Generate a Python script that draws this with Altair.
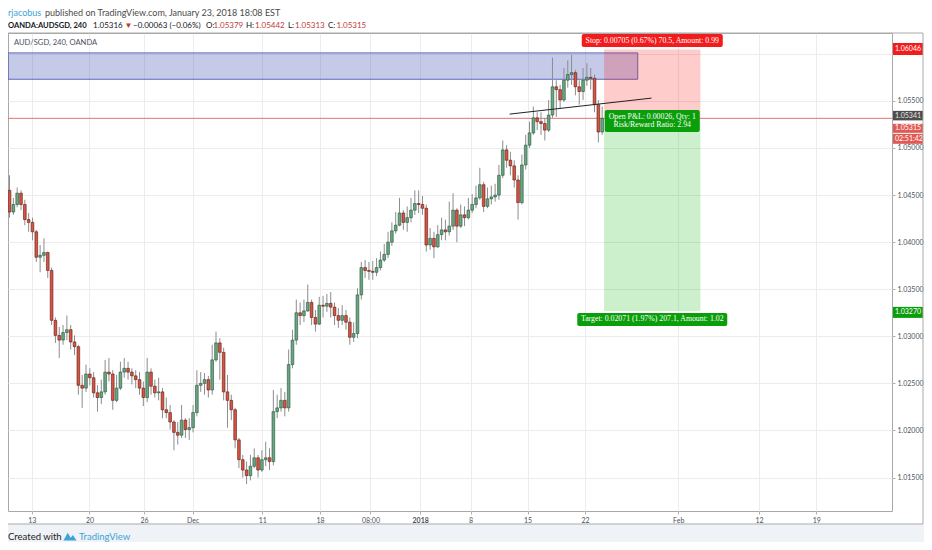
import altair as alt
import pandas as pd

# ---------------- data (AUD/SGD candles) ----------------
OPEN = [1.0455, 1.0432, 1.0440, 1.0452, 1.0440, 1.0424, 1.0421, 1.0411, 1.0384, 1.0386,
        1.0389, 1.0370, 1.0317, 1.0301, 1.0296, 1.0304, 1.0307, 1.0294, 1.0289, 1.0248,
        1.0245, 1.0260, 1.0256, 1.0240, 1.0235, 1.0241, 1.0262, 1.0260, 1.0232, 1.0245,
        1.0262, 1.0266, 1.0262, 1.0258, 1.0254, 1.0245, 1.0235, 1.0262, 1.0247, 1.0240,
        1.0241, 1.0222, 1.0219, 1.0209, 1.0198, 1.0195, 1.0211, 1.0201, 1.0203, 1.0219,
        1.0248, 1.0250, 1.0254, 1.0243, 1.0275, 1.0293, 1.0283, 1.0241, 1.0232, 1.0222,
        1.0190, 1.0169, 1.0158, 1.0152, 1.0162, 1.0171, 1.0158, 1.0169, 1.0171, 1.0167,
        1.0220, 1.0224, 1.0232, 1.0224, 1.0270, 1.0296, 1.0325, 1.0322, 1.0327, 1.0336,
        1.0320, 1.0313, 1.0333, 1.0332, 1.0335, 1.0331, 1.0322, 1.0317, 1.0322, 1.0315,
        1.0299, 1.0303, 1.0344, 1.0373, 1.0370, 1.0369, 1.0368, 1.0373, 1.0381, 1.0387,
        1.0400, 1.0412, 1.0418, 1.0431, 1.0421, 1.0426, 1.0434, 1.0441, 1.0440, 1.0436,
        1.0397, 1.0404, 1.0395, 1.0408, 1.0413, 1.0411, 1.0417, 1.0434, 1.0417, 1.0429,
        1.0426, 1.0434, 1.0440, 1.0447, 1.0461, 1.0438, 1.0446, 1.0448, 1.0450, 1.0471,
        1.0498, 1.0487, 1.0481, 1.0466, 1.0442, 1.0482, 1.0503, 1.0516, 1.0532, 1.0528,
        1.0526, 1.0519, 1.0535, 1.0565, 1.0562, 1.0551, 1.0572, 1.0578, 1.0580, 1.0565,
        1.0560, 1.0572, 1.0575, 1.0574, 1.0546, 1.0517]
HIGH = [1.0471, 1.0447, 1.0458, 1.0455, 1.0445, 1.0431, 1.0426, 1.0413, 1.0397, 1.0404,
        1.0390, 1.0373, 1.0320, 1.0310, 1.0312, 1.0322, 1.0312, 1.0301, 1.0291, 1.0259,
        1.0270, 1.0266, 1.0262, 1.0248, 1.0254, 1.0275, 1.0277, 1.0264, 1.0259, 1.0273,
        1.0277, 1.0273, 1.0266, 1.0264, 1.0262, 1.0252, 1.0277, 1.0266, 1.0254, 1.0256,
        1.0245, 1.0235, 1.0227, 1.0211, 1.0209, 1.0227, 1.0213, 1.0213, 1.0227, 1.0264,
        1.0262, 1.0261, 1.0258, 1.0291, 1.0305, 1.0298, 1.0288, 1.0259, 1.0238, 1.0224,
        1.0192, 1.0174, 1.0167, 1.0174, 1.0181, 1.0174, 1.0179, 1.0188, 1.0181, 1.0243,
        1.0238, 1.0245, 1.0241, 1.0286, 1.0307, 1.0339, 1.0336, 1.0339, 1.0355, 1.0339,
        1.0328, 1.0342, 1.0343, 1.0345, 1.0347, 1.0336, 1.0330, 1.0333, 1.0328, 1.0320,
        1.0315, 1.0351, 1.0379, 1.0381, 1.0379, 1.0380, 1.0383, 1.0390, 1.0398, 1.0411,
        1.0421, 1.0432, 1.0447, 1.0434, 1.0438, 1.0447, 1.0455, 1.0455, 1.0449, 1.0440,
        1.0415, 1.0411, 1.0418, 1.0426, 1.0424, 1.0443, 1.0452, 1.0436, 1.0440, 1.0438,
        1.0447, 1.0451, 1.0460, 1.0479, 1.0464, 1.0458, 1.0460, 1.0462, 1.0482, 1.0508,
        1.0503, 1.0496, 1.0487, 1.0471, 1.0493, 1.0514, 1.0528, 1.0544, 1.0538, 1.0538,
        1.0532, 1.0551, 1.0596, 1.0572, 1.0567, 1.0585, 1.0593, 1.0599, 1.0583, 1.0572,
        1.0585, 1.0590, 1.0585, 1.0578, 1.0551, 1.0544]
LOW = [1.0426, 1.0429, 1.0437, 1.0434, 1.0418, 1.0411, 1.0402, 1.0379, 1.0368, 1.0379,
       1.0362, 1.0312, 1.0293, 1.0277, 1.0291, 1.0296, 1.0286, 1.0280, 1.0238, 1.0224,
       1.0241, 1.0248, 1.0235, 1.0220, 1.0228, 1.0238, 1.0252, 1.0222, 1.0230, 1.0243,
       1.0256, 1.0254, 1.0249, 1.0245, 1.0238, 1.0226, 1.0230, 1.0238, 1.0235, 1.0232,
       1.0213, 1.0213, 1.0201, 1.0179, 1.0185, 1.0192, 1.0192, 1.0190, 1.0198, 1.0215,
       1.0241, 1.0238, 1.0235, 1.0238, 1.0273, 1.0254, 1.0232, 1.0203, 1.0211, 1.0181,
       1.0160, 1.0150, 1.0143, 1.0147, 1.0160, 1.0150, 1.0156, 1.0162, 1.0158, 1.0163,
       1.0213, 1.0220, 1.0215, 1.0220, 1.0266, 1.0291, 1.0312, 1.0315, 1.0326, 1.0312,
       1.0305, 1.0312, 1.0320, 1.0326, 1.0320, 1.0312, 1.0309, 1.0312, 1.0307, 1.0291,
       1.0294, 1.0298, 1.0339, 1.0362, 1.0360, 1.0360, 1.0364, 1.0370, 1.0379, 1.0383,
       1.0396, 1.0409, 1.0417, 1.0413, 1.0411, 1.0421, 1.0429, 1.0431, 1.0429, 1.0390,
       1.0392, 1.0383, 1.0394, 1.0402, 1.0402, 1.0407, 1.0413, 1.0400, 1.0415, 1.0417,
       1.0424, 1.0431, 1.0436, 1.0445, 1.0432, 1.0436, 1.0440, 1.0443, 1.0445, 1.0468,
       1.0479, 1.0471, 1.0458, 1.0424, 1.0440, 1.0477, 1.0500, 1.0514, 1.0519, 1.0514,
       1.0508, 1.0517, 1.0532, 1.0533, 1.0542, 1.0549, 1.0564, 1.0567, 1.0556, 1.0546,
       1.0551, 1.0566, 1.0562, 1.0538, 1.0506, 1.0514]
CLOSE = [1.0432, 1.0440, 1.0452, 1.0440, 1.0424, 1.0421, 1.0411, 1.0384, 1.0386, 1.0389,
         1.0370, 1.0317, 1.0301, 1.0296, 1.0304, 1.0307, 1.0294, 1.0289, 1.0248, 1.0245,
         1.0260, 1.0256, 1.0240, 1.0235, 1.0241, 1.0262, 1.0260, 1.0232, 1.0245, 1.0262,
         1.0266, 1.0262, 1.0258, 1.0254, 1.0245, 1.0235, 1.0262, 1.0247, 1.0240, 1.0241,
         1.0222, 1.0219, 1.0209, 1.0198, 1.0195, 1.0211, 1.0201, 1.0203, 1.0219, 1.0248,
         1.0250, 1.0254, 1.0243, 1.0275, 1.0293, 1.0283, 1.0241, 1.0232, 1.0222, 1.0190,
         1.0169, 1.0158, 1.0152, 1.0162, 1.0171, 1.0158, 1.0169, 1.0171, 1.0167, 1.0220,
         1.0224, 1.0232, 1.0224, 1.0270, 1.0296, 1.0325, 1.0322, 1.0327, 1.0336, 1.0320,
         1.0313, 1.0333, 1.0332, 1.0335, 1.0331, 1.0322, 1.0317, 1.0322, 1.0315, 1.0299,
         1.0303, 1.0344, 1.0373, 1.0370, 1.0369, 1.0368, 1.0373, 1.0381, 1.0387, 1.0400,
         1.0412, 1.0418, 1.0431, 1.0421, 1.0426, 1.0434, 1.0441, 1.0440, 1.0436, 1.0397,
         1.0404, 1.0395, 1.0408, 1.0413, 1.0411, 1.0417, 1.0434, 1.0417, 1.0429, 1.0426,
         1.0434, 1.0440, 1.0447, 1.0461, 1.0438, 1.0446, 1.0448, 1.0450, 1.0471, 1.0498,
         1.0487, 1.0481, 1.0466, 1.0442, 1.0482, 1.0503, 1.0516, 1.0532, 1.0528, 1.0526,
         1.0519, 1.0535, 1.0565, 1.0562, 1.0551, 1.0572, 1.0578, 1.0580, 1.0565, 1.0560,
         1.0572, 1.0575, 1.0574, 1.0546, 1.0517, 1.05315]

TICK_POS = [5.8, 20.9, 35.2, 47.9, 66.1, 81.2, 94.4, 107.4, 120.6, 135.5, 150.5, 174.9, 196, 211]
TICK_LABELS = ["13", "20", "26", "Dec", "11", "18", "08:00", "2018", "8", "15", "22", "Feb", "12", "19"]
PRICE_TICKS = [1.015, 1.020, 1.025, 1.030, 1.035, 1.040, 1.045, 1.050, 1.055, 1.060]

STOP = 1.06046
ENTRY = 1.05341
TARGET = 1.03270
LAST = 1.05315
ZONE_X = [155.5, 180.7]
BOX_X = [-0.4, 164.3]
BOX_Y = [1.0573, 1.0601]
TREND_X = [130.8, 167.9]
TREND_Y = [1.0536, 1.0553]

STOP_TEXT = "Stop: 0.00705 (0.67%) 70.5, Amount: 0.99"
PNL_TEXT = "Open P&L: 0.00026, Qty: 1"
RR_TEXT = "Risk/Reward Ratio: 2.94"
TARGET_TEXT = "Target: 0.02071 (1.97%) 207.1, Amount: 1.02"

# ---------------- layout / style ----------------
W, H = 884, 478
XDOM = [-0.4, 230.8]
YDOM = [1.011449, 1.062213]
FONT = "Lato"
SERIF = "Liberation Serif"
GRID = "#ececec"
BORDER = "#a8a8a8"
AXC = "#4c525e"

xs = alt.Scale(domain=XDOM, nice=False, zero=False, padding=0)
ys = alt.Scale(domain=YDOM, nice=False, zero=False, padding=0)

def key(p):
    return "%g" % p

label_map = "{" + ",".join(f"'{key(p)}':'{t}'" for p, t in zip(TICK_POS, TICK_LABELS)) + "}"

xaxis = alt.Axis(values=TICK_POS, labelExpr=f"{label_map}[''+datum.value]", grid=True,
                 gridColor=GRID, tickColor="#b0b0b0", tickSize=3, labelFontSize=7,
                 labelColor=AXC, labelFont=FONT, domain=False, labelPadding=2,
                 labelFlush=False, labelOverlap=False, title=None,
                 labelFontWeight={"condition": {"test": "datum.value == 107.4", "value": "bold"},
                                  "value": "normal"})
# the 1.06000 label sits under the stop price tag, as in the reference
yaxis = alt.Axis(orient="right", values=PRICE_TICKS, format=".5f", grid=True, gridColor=GRID,
                 tickColor="#b0b0b0", tickSize=3, labelFontSize=7, labelColor=AXC,
                 labelFont=FONT, domain=False, labelPadding=2, title=None, labelOverlap=False,
                 labelExpr="datum.value > 1.0599 ? '' : datum.label")

def X(f):
    return alt.X(f, type="quantitative", scale=xs, axis=xaxis)

def Y(f):
    return alt.Y(f, type="quantitative", scale=ys, axis=yaxis)

df = pd.DataFrame({"i": list(range(len(CLOSE))), "o": OPEN, "h": HIGH, "l": LOW, "c": CLOSE})
df["dir"] = ["up" if c >= o else "down" for o, c in zip(OPEN, CLOSE)]

layers = []

wicks = alt.Chart(df).mark_rule(color="#8c8c8c", strokeWidth=1).encode(
    x=X("i"), y=Y("l"), y2="h")

# footer band
layers.append(alt.Chart(pd.DataFrame({"a": [0]})).mark_rect(color="#eff2f6").encode(
    x=alt.value(0), x2=alt.value(W + 40), y=alt.value(H + 13.5), y2=alt.value(H + 40)))

# blue supply box
box_df = pd.DataFrame({"x0": [BOX_X[0]], "x1": [BOX_X[1]], "y0": [BOX_Y[0]], "y1": [BOX_Y[1]]})
layers.append(alt.Chart(box_df).mark_rect(fill="#3f51b5", fillOpacity=0.3, stroke="#5c6bc0",
                                          strokeWidth=1).encode(
    x=X("x0"), x2="x1", y=Y("y0"), y2="y1"))

# stop / target zones
zone_df = pd.DataFrame({"x0": [ZONE_X[0]], "x1": [ZONE_X[1]], "s": [STOP], "e": [ENTRY], "t": [TARGET]})
layers.append(alt.Chart(zone_df).mark_rect(fill="#ff0000", fillOpacity=0.2).encode(
    x=X("x0"), x2="x1", y=Y("s"), y2="e"))
layers.append(alt.Chart(zone_df).mark_rect(fill="#00b000", fillOpacity=0.2).encode(
    x=X("x0"), x2="x1", y=Y("e"), y2="t"))

# last price line
layers.append(alt.Chart(pd.DataFrame({"y": [LAST]})).mark_rule(color="#e57373", strokeWidth=1).encode(
    y=Y("y")))

layers.append(wicks)

# bodies
layers.append(alt.Chart(df).mark_bar(size=2.7, strokeWidth=0.6).encode(
    x=X("i"), y=Y("o"), y2="c",
    color=alt.Color("dir:N", scale=alt.Scale(domain=["up", "down"], range=["#6ba583", "#d75442"]), legend=None),
    stroke=alt.Stroke("dir:N", scale=alt.Scale(domain=["up", "down"], range=["#225437", "#5b1a13"]), legend=None)))

# trend line
layers.append(alt.Chart(pd.DataFrame({"x": TREND_X, "y": TREND_Y})).mark_line(
    color="#222222", strokeWidth=1).encode(x=X("x"), y=Y("y")))

# position-tool labels
zone_mid = (ZONE_X[0] + ZONE_X[1]) / 2

def pbox(price, half, yo0, yo1, color):
    d = pd.DataFrame({"x": [zone_mid], "y": [price]})
    return alt.Chart(d).mark_rect(color=color, cornerRadius=2, xOffset=-half, x2Offset=half,
                                  yOffset=yo0, y2Offset=yo1).encode(
        x=X("x"), x2="x", y=Y("y"), y2="y")

def ptext(price, text, dy):
    d = pd.DataFrame({"x": [zone_mid], "y": [price], "t": [text]})
    return alt.Chart(d).mark_text(font=SERIF, fontSize=7.8, color="white", baseline="middle",
                                  align="center", dy=dy).encode(x=X("x"), y=Y("y"), text="t:N")

layers += [pbox(STOP, 70.5, -15.5, -2.5, "#f21c1c"), ptext(STOP, STOP_TEXT, -9),
           pbox(ENTRY, 47.5, -6, 16, "#0a9e0a"), ptext(ENTRY, PNL_TEXT, 1.5), ptext(ENTRY, RR_TEXT, 9.5),
           pbox(TARGET, 75, 2, 15, "#0a9e0a"), ptext(TARGET, TARGET_TEXT, 8.5)]

# price tags on the axis
def tag(price, text, fill, tcolor, yo0, yo1):
    d = pd.DataFrame({"y": [price], "t": [text]})
    r = alt.Chart(d).mark_rect(color=fill, yOffset=yo0, y2Offset=yo1).encode(
        x=alt.value(W + 1), x2=alt.value(W + 31), y=Y("y"), y2="y")
    t = alt.Chart(d).mark_text(align="left", baseline="middle", dy=(yo0 + yo1) / 2, fontSize=7,
                               color=tcolor, font=FONT).encode(x=alt.value(W + 3), y=Y("y"), text="t:N")
    return [r, t]

layers += tag(STOP, "1.06046", "#f21c1c", "white", -6.5, 5.5)
layers += tag(ENTRY, "1.05341", "#4d4d4d", "#e8e8e8", -5, 4.5)
layers += tag(LAST, "1.05315", "#df5a55", "white", 5.5, 14.5)
layers += tag(LAST, "02:51:42", "#df5a55", "white", 15.5, 25.5)
layers += tag(TARGET, "1.03270", "#0a9e0a", "white", -4, 7)

# frame lines
def rule(**enc):
    return alt.Chart(pd.DataFrame({"a": [0]})).mark_rule(color=BORDER, strokeWidth=1).encode(**enc)

layers += [rule(x=alt.value(0), x2=alt.value(W + 31), y=alt.value(0)),
           rule(x=alt.value(W + 31), y=alt.value(0), y2=alt.value(H + 13)),
           rule(x=alt.value(0), x2=alt.value(W + 31), y=alt.value(H + 13))]

# texts outside / on the pane
def txt(t, x, y, size=8, color="#333333", weight="normal", font=FONT):
    return alt.Chart(pd.DataFrame({"t": [t]})).mark_text(
        align="left", baseline="middle", fontSize=size, color=color, fontWeight=weight, font=font
    ).encode(text="t:N", x=alt.value(x), y=alt.value(y))

RED = "#c0393b"
layers += [
    txt("AUD/SGD, 240, OANDA", 6, 10, 7.6, AXC),
    txt("rjacobus", 0, -20, 9, "#3da4d6"),
    txt("published on TradingView.com, January 23, 2018 18:08 EST", 37, -20, 9, "#4a4a4a"),
    txt("OANDA:AUDSGD, 240", 0, -7, 7.6, "#131722", "bold"),
    txt("1.05316", 85, -7, 8, "#131722"),
    txt("▼", 116.5, -7, 8, "#c0392b"),
    txt("−0.00063 (−0.06%)", 125, -7, 8, "#131722"),
    txt("O:", 198, -7, 8, "#131722"), txt("1.05379", 205.5, -7, 8, RED),
    txt("H:", 238, -7, 8, "#131722"), txt("1.05442", 247, -7, 8, RED),
    txt("L:", 280, -7, 8, "#131722"), txt("1.05313", 287, -7, 8, RED),
    txt("C:", 320, -7, 8, "#131722"), txt("1.05315", 328.5, -7, 8, RED),
    txt("Created with", 0, 504, 9.5, "#222222"),
    txt("TradingView", 71, 504, 9.5, "#3da4d6"),
]
layers.append(alt.Chart(pd.DataFrame({"a": [0]})).mark_point(
    shape="M-1,0.7L-0.35,-0.5L0.1,0.25L0.45,-0.15L1,0.7Z", filled=True, size=170,
    color="#3da4d6", opacity=1).encode(x=alt.value(62), y=alt.value(503)))

chart = alt.layer(*layers).properties(
    width=W, height=H,
    padding={"left": 0, "top": 25, "right": 32, "bottom": 31},
    autosize=alt.AutoSizeParams(type="none"),
    background="white",
).configure_view(stroke=BORDER, strokeWidth=1)

chart.save("out.html", embed_options={"renderer": "svg", "actions": False})
